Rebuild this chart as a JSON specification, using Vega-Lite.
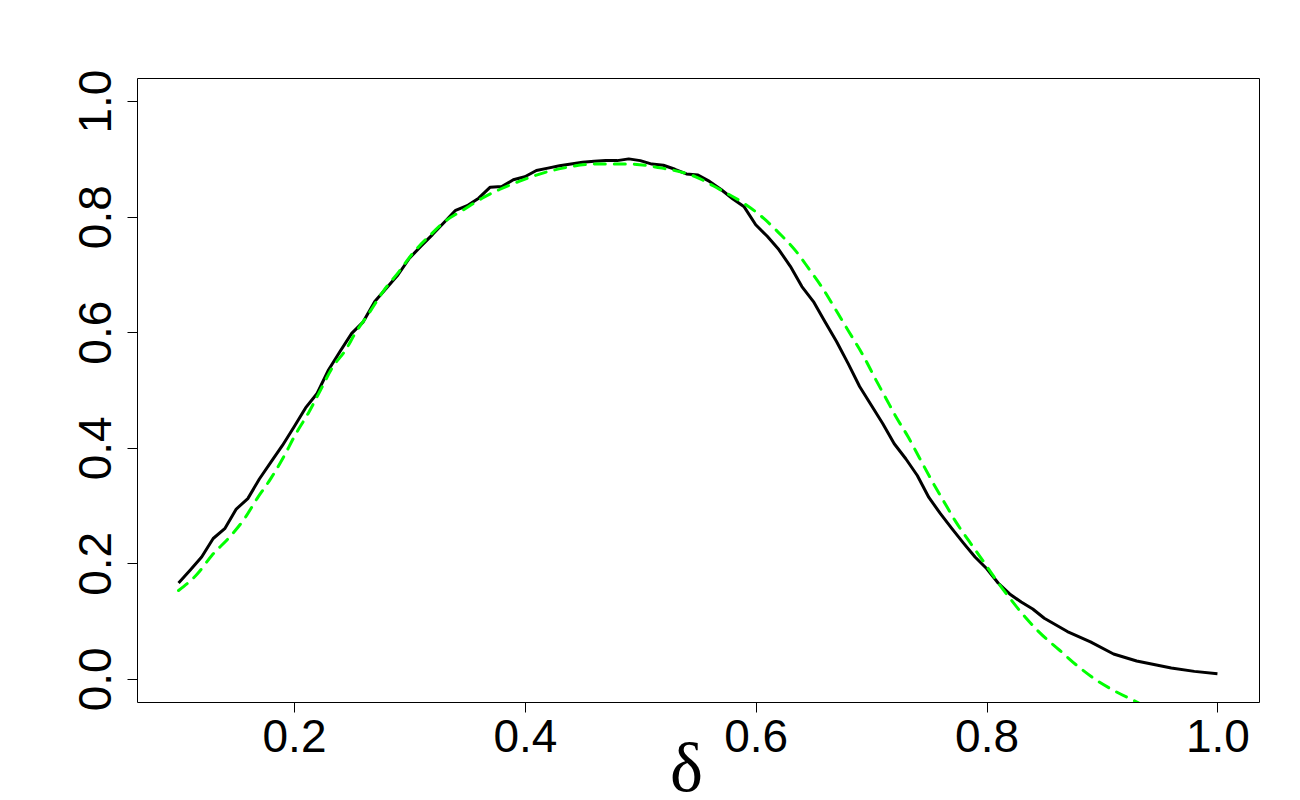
{
  "$schema": "https://vega.github.io/schema/vega-lite/v6.json",
  "width": 1122,
  "height": 624,
  "autosize": {"type": "none"},
  "padding": {"left": 137, "top": 78, "right": 41, "bottom": 98},
  "background": "white",
  "config": {
    "view": {"stroke": "#000000", "strokeWidth": 1},
    "axis": {
      "domain": false,
      "grid": false,
      "ticks": true,
      "tickSize": 10,
      "tickColor": "#000000",
      "tickWidth": 1,
      "labelFont": "Liberation Sans",
      "labelFontSize": 46,
      "labelColor": "#000000",
      "labelFlush": false,
      "labelOverlap": false
    }
  },
  "datasets": {
    "sim": [
      {"x": 0.10, "y": 0.166}, {"x": 0.11, "y": 0.188}, {"x": 0.12, "y": 0.211}, {"x": 0.13, "y": 0.243},
      {"x": 0.14, "y": 0.260}, {"x": 0.15, "y": 0.294}, {"x": 0.16, "y": 0.312}, {"x": 0.17, "y": 0.346},
      {"x": 0.18, "y": 0.375}, {"x": 0.19, "y": 0.404}, {"x": 0.20, "y": 0.436}, {"x": 0.21, "y": 0.469},
      {"x": 0.22, "y": 0.494}, {"x": 0.23, "y": 0.535}, {"x": 0.24, "y": 0.567}, {"x": 0.25, "y": 0.598},
      {"x": 0.26, "y": 0.618}, {"x": 0.27, "y": 0.653}, {"x": 0.28, "y": 0.676}, {"x": 0.29, "y": 0.699},
      {"x": 0.30, "y": 0.728}, {"x": 0.31, "y": 0.749}, {"x": 0.32, "y": 0.769}, {"x": 0.33, "y": 0.790},
      {"x": 0.34, "y": 0.811}, {"x": 0.35, "y": 0.819}, {"x": 0.36, "y": 0.832}, {"x": 0.37, "y": 0.851},
      {"x": 0.38, "y": 0.852}, {"x": 0.39, "y": 0.864}, {"x": 0.40, "y": 0.869}, {"x": 0.41, "y": 0.880},
      {"x": 0.42, "y": 0.884}, {"x": 0.43, "y": 0.888}, {"x": 0.44, "y": 0.891}, {"x": 0.45, "y": 0.894},
      {"x": 0.46, "y": 0.896}, {"x": 0.47, "y": 0.897}, {"x": 0.48, "y": 0.897}, {"x": 0.49, "y": 0.900},
      {"x": 0.50, "y": 0.897}, {"x": 0.51, "y": 0.891}, {"x": 0.52, "y": 0.889}, {"x": 0.53, "y": 0.882},
      {"x": 0.54, "y": 0.874}, {"x": 0.55, "y": 0.872}, {"x": 0.56, "y": 0.861}, {"x": 0.57, "y": 0.847},
      {"x": 0.58, "y": 0.831}, {"x": 0.59, "y": 0.817}, {"x": 0.60, "y": 0.786}, {"x": 0.61, "y": 0.766},
      {"x": 0.62, "y": 0.743}, {"x": 0.63, "y": 0.714}, {"x": 0.64, "y": 0.679}, {"x": 0.65, "y": 0.653},
      {"x": 0.66, "y": 0.618}, {"x": 0.67, "y": 0.584}, {"x": 0.68, "y": 0.546}, {"x": 0.69, "y": 0.506},
      {"x": 0.70, "y": 0.474}, {"x": 0.71, "y": 0.442}, {"x": 0.72, "y": 0.407}, {"x": 0.73, "y": 0.381},
      {"x": 0.74, "y": 0.352}, {"x": 0.75, "y": 0.314}, {"x": 0.76, "y": 0.286}, {"x": 0.77, "y": 0.260},
      {"x": 0.78, "y": 0.235}, {"x": 0.79, "y": 0.211}, {"x": 0.80, "y": 0.191}, {"x": 0.81, "y": 0.166},
      {"x": 0.82, "y": 0.147}, {"x": 0.83, "y": 0.133}, {"x": 0.84, "y": 0.121}, {"x": 0.85, "y": 0.105},
      {"x": 0.87, "y": 0.082}, {"x": 0.89, "y": 0.064}, {"x": 0.91, "y": 0.043}, {"x": 0.93, "y": 0.031},
      {"x": 0.96, "y": 0.019}, {"x": 0.98, "y": 0.013}, {"x": 1.00, "y": 0.009}
    ],
    "fit": [
      {"x": 0.100, "y": 0.153}, {"x": 0.116, "y": 0.181}, {"x": 0.129, "y": 0.214}, {"x": 0.144, "y": 0.245},
      {"x": 0.157, "y": 0.277}, {"x": 0.168, "y": 0.312}, {"x": 0.180, "y": 0.347}, {"x": 0.191, "y": 0.384},
      {"x": 0.201, "y": 0.422}, {"x": 0.213, "y": 0.462}, {"x": 0.223, "y": 0.500}, {"x": 0.233, "y": 0.538},
      {"x": 0.245, "y": 0.570}, {"x": 0.253, "y": 0.598}, {"x": 0.266, "y": 0.636}, {"x": 0.277, "y": 0.670},
      {"x": 0.291, "y": 0.705}, {"x": 0.303, "y": 0.737}, {"x": 0.317, "y": 0.766}, {"x": 0.331, "y": 0.792},
      {"x": 0.347, "y": 0.812}, {"x": 0.363, "y": 0.832}, {"x": 0.378, "y": 0.847}, {"x": 0.395, "y": 0.861},
      {"x": 0.410, "y": 0.872}, {"x": 0.433, "y": 0.884}, {"x": 0.461, "y": 0.891}, {"x": 0.490, "y": 0.891},
      {"x": 0.519, "y": 0.884}, {"x": 0.548, "y": 0.869}, {"x": 0.568, "y": 0.848}, {"x": 0.589, "y": 0.824},
      {"x": 0.607, "y": 0.797}, {"x": 0.620, "y": 0.772}, {"x": 0.635, "y": 0.740}, {"x": 0.646, "y": 0.710},
      {"x": 0.658, "y": 0.676}, {"x": 0.669, "y": 0.640}, {"x": 0.681, "y": 0.600}, {"x": 0.693, "y": 0.560},
      {"x": 0.704, "y": 0.518}, {"x": 0.713, "y": 0.485}, {"x": 0.722, "y": 0.452}, {"x": 0.732, "y": 0.419},
      {"x": 0.742, "y": 0.382}, {"x": 0.752, "y": 0.345}, {"x": 0.763, "y": 0.307}, {"x": 0.773, "y": 0.273},
      {"x": 0.785, "y": 0.238}, {"x": 0.797, "y": 0.204}, {"x": 0.808, "y": 0.172}, {"x": 0.820, "y": 0.140},
      {"x": 0.833, "y": 0.108}, {"x": 0.846, "y": 0.080}, {"x": 0.863, "y": 0.050}, {"x": 0.879, "y": 0.022},
      {"x": 0.895, "y": -0.002}, {"x": 0.912, "y": -0.022}, {"x": 0.928, "y": -0.038}, {"x": 0.940, "y": -0.050}
    ]
  },
  "encoding": {
    "x": {
      "field": "x",
      "type": "quantitative",
      "scale": {"domain": [0.064, 1.036], "nice": false, "zero": false},
      "axis": {
        "values": [0.2, 0.4, 0.6, 0.8, 1.0],
        "format": ".1f",
        "labelPadding": 3,
        "title": "δ",
        "titleFont": "Liberation Serif",
        "titleFontSize": 70,
        "titleFontWeight": "normal",
        "titleColor": "#000000",
        "titleBaseline": "alphabetic",
        "titleX": 549,
        "titleY": 88
      }
    },
    "y": {
      "field": "y",
      "type": "quantitative",
      "scale": {"domain": [-0.04, 1.04], "nice": false, "zero": false},
      "axis": {
        "values": [0.0, 0.2, 0.4, 0.6, 0.8, 1.0],
        "format": ".1f",
        "labelAngle": 270,
        "labelAlign": "center",
        "labelBaseline": "alphabetic",
        "labelPadding": 17,
        "title": null
      }
    }
  },
  "layer": [
    {
      "data": {"name": "sim"},
      "mark": {"type": "line", "color": "#000000", "strokeWidth": 3, "strokeJoin": "round"}
    },
    {
      "data": {"name": "fit"},
      "mark": {"type": "line", "color": "#00FF00", "strokeWidth": 3, "strokeDash": [11, 9], "strokeCap": "round", "interpolate": "monotone", "clip": true}
    }
  ]
}
